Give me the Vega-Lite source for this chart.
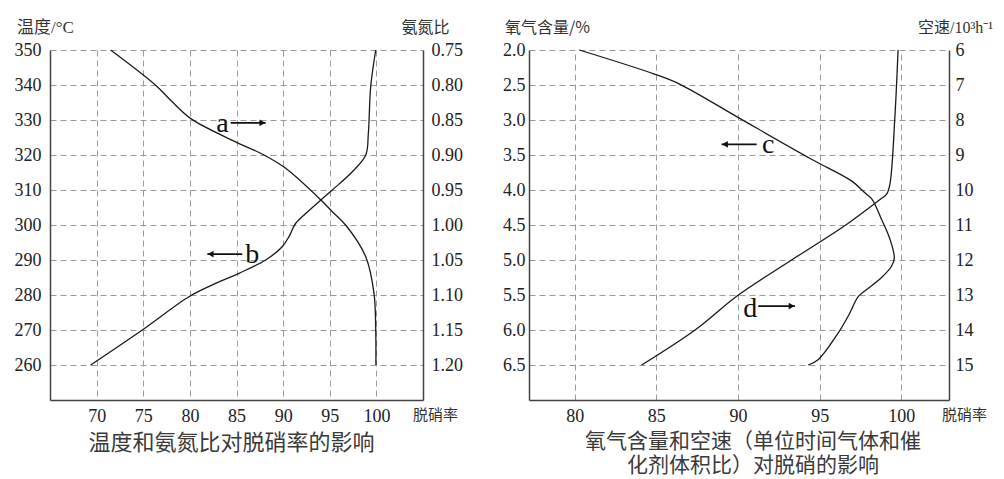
{
  "$schema": "https://vega.github.io/schema/vega-lite/v6.json",
  "padding": {"left": 14, "top": 18, "right": 0, "bottom": 0},
  "background": "white",
  "datasets": {
    "curveA": [
      {"rate": 71.5, "ratio": 0.75}, {"rate": 76.3, "ratio": 0.80}, {"rate": 78.1, "ratio": 0.824},
      {"rate": 80.1, "ratio": 0.848}, {"rate": 84.55, "ratio": 0.879}, {"rate": 87.95, "ratio": 0.90},
      {"rate": 90.27, "ratio": 0.919}, {"rate": 94.03, "ratio": 0.964}, {"rate": 95.27, "ratio": 0.981},
      {"rate": 96.7, "ratio": 1.0}, {"rate": 98.85, "ratio": 1.045}, {"rate": 99.75, "ratio": 1.098},
      {"rate": 99.93, "ratio": 1.15}, {"rate": 99.95, "ratio": 1.20}
    ],
    "curveB": [
      {"rate": 69.36, "temp": 260}, {"rate": 74.9, "temp": 270}, {"rate": 79.9, "temp": 279.5},
      {"rate": 82.77, "temp": 283.3}, {"rate": 85.27, "temp": 286.2}, {"rate": 88.13, "temp": 290},
      {"rate": 89.9, "temp": 293.8}, {"rate": 90.63, "temp": 296.7}, {"rate": 91.35, "temp": 300.5},
      {"rate": 92.42, "temp": 303.3}, {"rate": 94.03, "temp": 307.1}, {"rate": 95.27, "temp": 310},
      {"rate": 97.42, "temp": 315.2}, {"rate": 98.86, "temp": 320}, {"rate": 99.14, "temp": 326.2},
      {"rate": 99.39, "temp": 339.5}, {"rate": 99.93, "temp": 350}
    ],
    "curveC": [
      {"rate": 80.28, "o2": 2.0}, {"rate": 84.92, "o2": 2.347}, {"rate": 86.45, "o2": 2.49},
      {"rate": 90.02, "o2": 2.966}, {"rate": 94.5, "o2": 3.56}, {"rate": 96.95, "o2": 3.87},
      {"rate": 97.77, "o2": 4.04}, {"rate": 98.2, "o2": 4.13}, {"rate": 98.79, "o2": 4.42},
      {"rate": 99.3, "o2": 4.70}, {"rate": 99.57, "o2": 4.97}, {"rate": 99.4, "o2": 5.09},
      {"rate": 98.79, "o2": 5.25}, {"rate": 97.78, "o2": 5.44}, {"rate": 97.37, "o2": 5.52},
      {"rate": 96.75, "o2": 5.80}, {"rate": 96.14, "o2": 6.04}, {"rate": 94.92, "o2": 6.42},
      {"rate": 94.3, "o2": 6.5}
    ],
    "curveD": [
      {"rate": 99.8, "sv": 6}, {"rate": 99.61, "sv": 7.88}, {"rate": 99.3, "sv": 9.84},
      {"rate": 99.1, "sv": 10.12}, {"rate": 98.7, "sv": 10.27}, {"rate": 96.6, "sv": 11},
      {"rate": 93.28, "sv": 12}, {"rate": 90.02, "sv": 13}, {"rate": 87.37, "sv": 14},
      {"rate": 84.1, "sv": 15}
    ],
    "arrowsL": [
      {"x1": 84.38, "x2": 88.13, "y": 329.2, "hx": 87.77, "dir": "right"},
      {"x1": 81.87, "x2": 85.62, "y": 291.7, "hx": 82.23, "dir": "left"}
    ],
    "labelsL": [
      {"x": 83.5, "y": 326.6, "label": "a"},
      {"x": 86.7, "y": 289.1, "label": "b"}
    ],
    "arrowsR": [
      {"x1": 88.99, "x2": 91.14, "y": 3.347, "hx": 89.2, "dir": "left"},
      {"x1": 91.24, "x2": 93.49, "y": 5.658, "hx": 93.28, "dir": "right"}
    ],
    "labelsR": [
      {"x": 91.85, "y": 3.476, "label": "c"},
      {"x": 90.75, "y": 5.82, "label": "d"}
    ]
  },
  "hconcat": [
    {
      "width": 373,
      "height": 350,
      "title": {"text": "温度和氨氮比对脱硝率的影响", "orient": "bottom", "frame": "group", "anchor": "middle", "dx": -5, "offset": 8, "fontSize": 22, "font": "Noto Sans CJK SC", "fontWeight": "normal", "color": "#3a3a3a"},
      "resolve": {"scale": {"y": "independent"}},
      "layer": [
        {
          "layer": [
            {
              "data": {"name": "curveB"},
              "mark": {"type": "line", "interpolate": "catmull-rom", "color": "#1a1a1a", "strokeWidth": 1.3},
              "encoding": {
                "x": {"field": "rate", "type": "quantitative", "scale": {"domain": [65, 105], "nice": false, "zero": false},
                  "axis": {"values": [70, 75, 80, 85, 90, 95, 100], "grid": true, "labelFont": "Liberation Serif", "labelFontSize": 18, "labelColor": "#222", "labelOverlap": false, "labelPadding": 7, "title": "脱硝率", "titleFont": "Noto Sans CJK SC", "titleFontSize": 15, "titleX": 385, "titleY": 14}},
                "y": {"field": "temp", "type": "quantitative", "scale": {"domain": [250, 350], "nice": false, "zero": false},
                  "axis": {"orient": "left", "values": [260, 270, 280, 290, 300, 310, 320, 330, 340, 350], "grid": true, "labelFont": "Liberation Serif", "labelFontSize": 18, "labelColor": "#222", "labelOverlap": false, "labelPadding": 9, "title": "温度/°C", "titleFont": "Liberation Serif, Noto Sans CJK SC", "titleFontSize": 17, "titleX": -5, "titleY": -23}},
                "order": {"field": "temp", "type": "quantitative"}
              }
            },
            {
              "data": {"name": "arrowsL"},
              "mark": {"type": "rule", "color": "#111", "strokeWidth": 1.8},
              "encoding": {
                "x": {"field": "x1", "type": "quantitative",
                  "axis": {"values": [70, 75, 80, 85, 90, 95, 100], "grid": true, "labelFont": "Liberation Serif", "labelFontSize": 18, "labelColor": "#222", "labelOverlap": false, "labelPadding": 7, "title": "脱硝率", "titleFont": "Noto Sans CJK SC", "titleFontSize": 15, "titleX": 385, "titleY": 14}},
                "x2": {"field": "x2"},
                "y": {"field": "y", "type": "quantitative",
                  "axis": {"orient": "left", "values": [260, 270, 280, 290, 300, 310, 320, 330, 340, 350], "grid": true, "labelFont": "Liberation Serif", "labelFontSize": 18, "labelColor": "#222", "labelOverlap": false, "labelPadding": 9, "title": "温度/°C", "titleFont": "Liberation Serif, Noto Sans CJK SC", "titleFontSize": 17, "titleX": -5, "titleY": -23}}
              }
            },
            {
              "data": {"name": "arrowsL"},
              "mark": {"type": "point", "filled": true, "color": "#111", "size": 45, "opacity": 1},
              "encoding": {
                "x": {"field": "hx", "type": "quantitative",
                  "axis": {"values": [70, 75, 80, 85, 90, 95, 100], "grid": true, "labelFont": "Liberation Serif", "labelFontSize": 18, "labelColor": "#222", "labelOverlap": false, "labelPadding": 7, "title": "脱硝率", "titleFont": "Noto Sans CJK SC", "titleFontSize": 15, "titleX": 385, "titleY": 14}},
                "y": {"field": "y", "type": "quantitative",
                  "axis": {"orient": "left", "values": [260, 270, 280, 290, 300, 310, 320, 330, 340, 350], "grid": true, "labelFont": "Liberation Serif", "labelFontSize": 18, "labelColor": "#222", "labelOverlap": false, "labelPadding": 9, "title": "温度/°C", "titleFont": "Liberation Serif, Noto Sans CJK SC", "titleFontSize": 17, "titleX": -5, "titleY": -23}},
                "shape": {"field": "dir", "type": "nominal", "scale": {"domain": ["left", "right"], "range": ["triangle-left", "triangle-right"]}, "legend": null}
              }
            },
            {
              "data": {"name": "labelsL"},
              "mark": {"type": "text", "font": "Liberation Serif", "fontSize": 28, "color": "#111", "baseline": "alphabetic", "align": "center"},
              "encoding": {
                "x": {"field": "x", "type": "quantitative",
                  "axis": {"values": [70, 75, 80, 85, 90, 95, 100], "grid": true, "labelFont": "Liberation Serif", "labelFontSize": 18, "labelColor": "#222", "labelOverlap": false, "labelPadding": 7, "title": "脱硝率", "titleFont": "Noto Sans CJK SC", "titleFontSize": 15, "titleX": 385, "titleY": 14}},
                "y": {"field": "y", "type": "quantitative",
                  "axis": {"orient": "left", "values": [260, 270, 280, 290, 300, 310, 320, 330, 340, 350], "grid": true, "labelFont": "Liberation Serif", "labelFontSize": 18, "labelColor": "#222", "labelOverlap": false, "labelPadding": 9, "title": "温度/°C", "titleFont": "Liberation Serif, Noto Sans CJK SC", "titleFontSize": 17, "titleX": -5, "titleY": -23}},
                "text": {"field": "label"}
              }
            }
          ]
        },
        {
          "data": {"name": "curveA"},
          "mark": {"type": "line", "interpolate": "catmull-rom", "color": "#1a1a1a", "strokeWidth": 1.3},
          "encoding": {
            "x": {"field": "rate", "type": "quantitative",
              "axis": {"values": [70, 75, 80, 85, 90, 95, 100], "grid": true, "labelFont": "Liberation Serif", "labelFontSize": 18, "labelColor": "#222", "labelOverlap": false, "labelPadding": 7, "title": "脱硝率", "titleFont": "Noto Sans CJK SC", "titleFontSize": 15, "titleX": 385, "titleY": 14}},
            "y": {"field": "ratio", "type": "quantitative", "scale": {"domain": [0.75, 1.25], "reverse": true, "nice": false, "zero": false},
              "axis": {"orient": "right", "values": [0.75, 0.8, 0.85, 0.9, 0.95, 1.0, 1.05, 1.1, 1.15, 1.2], "format": ".2f", "grid": false, "labelFont": "Liberation Serif", "labelFontSize": 18, "labelColor": "#222", "labelOverlap": false, "labelPadding": 8, "title": "氨氮比", "titleFont": "Noto Sans CJK SC", "titleFontSize": 16, "titleX": 2, "titleY": -23}},
            "order": {"field": "ratio", "type": "quantitative"}
          }
        }
      ]
    },
    {
      "width": 420,
      "height": 350,
      "title": {"text": "氧气含量和空速（单位时间气体和催", "subtitle": "化剂体积比）对脱硝的影响", "orient": "bottom", "frame": "group", "anchor": "middle", "dx": 14, "offset": 6, "fontSize": 21, "font": "Noto Sans CJK SC", "fontWeight": "normal", "color": "#3a3a3a", "subtitleFont": "Noto Sans CJK SC", "subtitleFontSize": 21, "subtitleFontWeight": "normal", "subtitleColor": "#3a3a3a", "subtitlePadding": 3},
      "resolve": {"scale": {"y": "independent"}},
      "layer": [
        {
          "layer": [
            {
              "data": {"name": "curveC"},
              "mark": {"type": "line", "interpolate": "catmull-rom", "color": "#1a1a1a", "strokeWidth": 1.3},
              "encoding": {
                "x": {"field": "rate", "type": "quantitative", "scale": {"domain": [77.2, 102.92], "nice": false, "zero": false},
                  "axis": {"values": [80, 85, 90, 95, 100], "grid": true, "labelFont": "Liberation Serif", "labelFontSize": 18, "labelColor": "#222", "labelOverlap": false, "labelPadding": 7, "title": "脱硝率", "titleFont": "Noto Sans CJK SC", "titleFontSize": 15, "titleX": 435, "titleY": 14}},
                "y": {"field": "o2", "type": "quantitative", "scale": {"domain": [2.0, 7.0], "reverse": true, "nice": false, "zero": false},
                  "axis": {"orient": "left", "values": [2.0, 2.5, 3.0, 3.5, 4.0, 4.5, 5.0, 5.5, 6.0, 6.5], "format": ".1f", "grid": true, "labelFont": "Liberation Serif", "labelFontSize": 18, "labelColor": "#222", "labelOverlap": false, "labelPadding": 4, "title": "氧气含量/%", "titleFont": "Noto Sans CJK SC", "titleFontSize": 16, "titleX": 18, "titleY": -23}},
                "order": {"field": "o2", "type": "quantitative"}
              }
            },
            {
              "data": {"name": "arrowsR"},
              "mark": {"type": "rule", "color": "#111", "strokeWidth": 1.8},
              "encoding": {
                "x": {"field": "x1", "type": "quantitative",
                  "axis": {"values": [80, 85, 90, 95, 100], "grid": true, "labelFont": "Liberation Serif", "labelFontSize": 18, "labelColor": "#222", "labelOverlap": false, "labelPadding": 7, "title": "脱硝率", "titleFont": "Noto Sans CJK SC", "titleFontSize": 15, "titleX": 435, "titleY": 14}},
                "x2": {"field": "x2"},
                "y": {"field": "y", "type": "quantitative",
                  "axis": {"orient": "left", "values": [2.0, 2.5, 3.0, 3.5, 4.0, 4.5, 5.0, 5.5, 6.0, 6.5], "format": ".1f", "grid": true, "labelFont": "Liberation Serif", "labelFontSize": 18, "labelColor": "#222", "labelOverlap": false, "labelPadding": 4, "title": "氧气含量/%", "titleFont": "Noto Sans CJK SC", "titleFontSize": 16, "titleX": 18, "titleY": -23}}
              }
            },
            {
              "data": {"name": "arrowsR"},
              "mark": {"type": "point", "filled": true, "color": "#111", "size": 45, "opacity": 1},
              "encoding": {
                "x": {"field": "hx", "type": "quantitative",
                  "axis": {"values": [80, 85, 90, 95, 100], "grid": true, "labelFont": "Liberation Serif", "labelFontSize": 18, "labelColor": "#222", "labelOverlap": false, "labelPadding": 7, "title": "脱硝率", "titleFont": "Noto Sans CJK SC", "titleFontSize": 15, "titleX": 435, "titleY": 14}},
                "y": {"field": "y", "type": "quantitative",
                  "axis": {"orient": "left", "values": [2.0, 2.5, 3.0, 3.5, 4.0, 4.5, 5.0, 5.5, 6.0, 6.5], "format": ".1f", "grid": true, "labelFont": "Liberation Serif", "labelFontSize": 18, "labelColor": "#222", "labelOverlap": false, "labelPadding": 4, "title": "氧气含量/%", "titleFont": "Noto Sans CJK SC", "titleFontSize": 16, "titleX": 18, "titleY": -23}},
                "shape": {"field": "dir", "type": "nominal", "scale": {"domain": ["left", "right"], "range": ["triangle-left", "triangle-right"]}, "legend": null}
              }
            },
            {
              "data": {"name": "labelsR"},
              "mark": {"type": "text", "font": "Liberation Serif", "fontSize": 28, "color": "#111", "baseline": "alphabetic", "align": "center"},
              "encoding": {
                "x": {"field": "x", "type": "quantitative",
                  "axis": {"values": [80, 85, 90, 95, 100], "grid": true, "labelFont": "Liberation Serif", "labelFontSize": 18, "labelColor": "#222", "labelOverlap": false, "labelPadding": 7, "title": "脱硝率", "titleFont": "Noto Sans CJK SC", "titleFontSize": 15, "titleX": 435, "titleY": 14}},
                "y": {"field": "y", "type": "quantitative",
                  "axis": {"orient": "left", "values": [2.0, 2.5, 3.0, 3.5, 4.0, 4.5, 5.0, 5.5, 6.0, 6.5], "format": ".1f", "grid": true, "labelFont": "Liberation Serif", "labelFontSize": 18, "labelColor": "#222", "labelOverlap": false, "labelPadding": 4, "title": "氧气含量/%", "titleFont": "Noto Sans CJK SC", "titleFontSize": 16, "titleX": 18, "titleY": -23}},
                "text": {"field": "label"}
              }
            }
          ]
        },
        {
          "data": {"name": "curveD"},
          "mark": {"type": "line", "interpolate": "catmull-rom", "color": "#1a1a1a", "strokeWidth": 1.3},
          "encoding": {
            "x": {"field": "rate", "type": "quantitative",
              "axis": {"values": [80, 85, 90, 95, 100], "grid": true, "labelFont": "Liberation Serif", "labelFontSize": 18, "labelColor": "#222", "labelOverlap": false, "labelPadding": 7, "title": "脱硝率", "titleFont": "Noto Sans CJK SC", "titleFontSize": 15, "titleX": 435, "titleY": 14}},
            "y": {"field": "sv", "type": "quantitative", "scale": {"domain": [6, 16], "reverse": true, "nice": false, "zero": false},
              "axis": {"orient": "right", "values": [6, 7, 8, 9, 10, 11, 12, 13, 14, 15], "format": "d", "grid": false, "labelFont": "Liberation Serif", "labelFontSize": 18, "labelColor": "#222", "labelOverlap": false, "labelPadding": 6, "title": "空速/10³h⁻¹", "titleFont": "Liberation Serif, Noto Sans CJK SC", "titleFontSize": 16, "titleX": 6, "titleY": -23}},
            "order": {"field": "sv", "type": "quantitative"}
          }
        }
      ]
    }
  ],
  "spacing": 106,
  "bounds": "flush",
  "config": {
    "view": {"stroke": null},
    "axis": {
      "gridColor": "#9a9a9a",
      "gridDash": [6, 4],
      "gridWidth": 1,
      "ticks": false,
      "tickSize": 0,
      "domainColor": "#444",
      "domainWidth": 1.5,
      "labelFont": "Liberation Serif",
      "labelFontSize": 18,
      "labelColor": "#222",
      "labelOverlap": false,
      "titleFontWeight": "normal",
      "titleColor": "#333",
      "titleAngle": 0,
      "titleAlign": "center",
      "titleBaseline": "middle"
    }
  }
}
